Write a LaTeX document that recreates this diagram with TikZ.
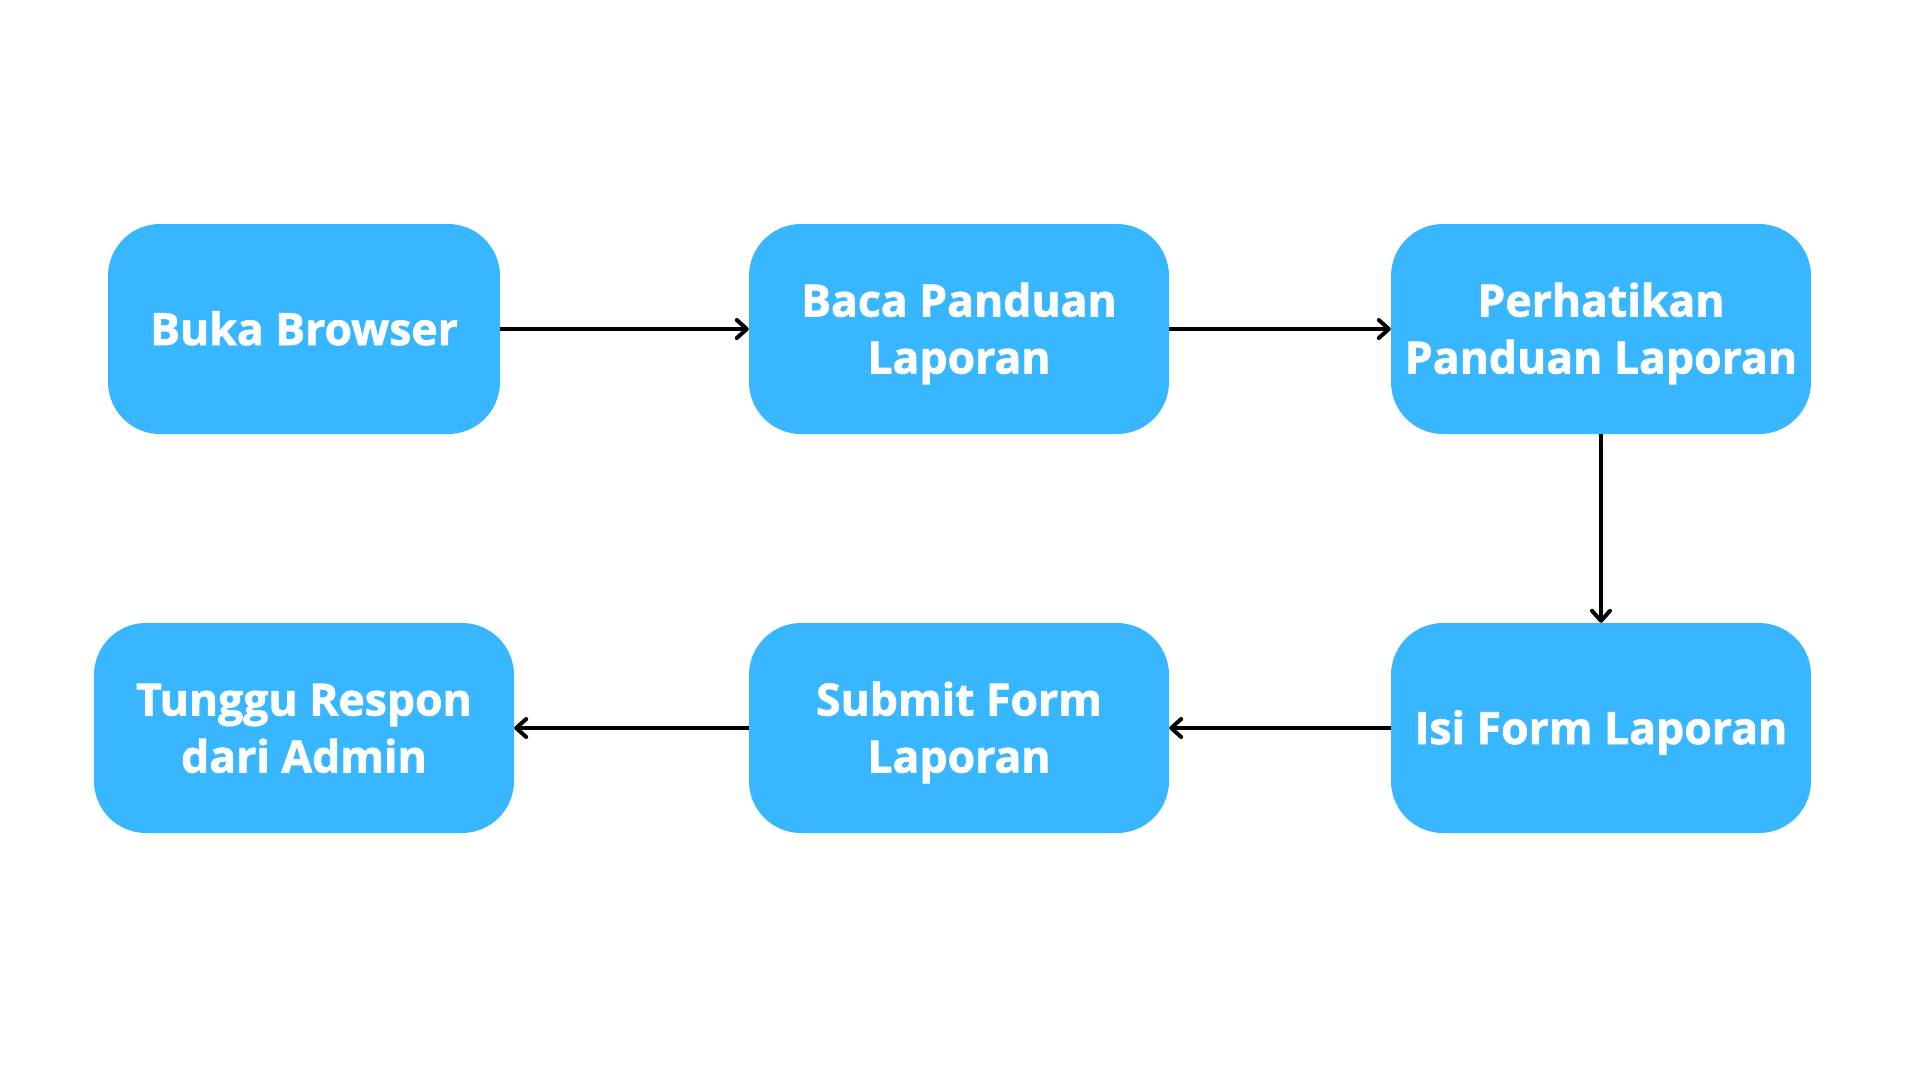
\documentclass[tikz,border=0pt]{standalone}
\usepackage{fontspec}
\setmainfont{Open Sans}[BoldFeatures={FakeBold=1.6}]
\usetikzlibrary{arrows.meta}
\definecolor{boxblue}{RGB}{56,182,255}
\newcommand\stk[1]{\begin{tabular}[b]{@{}c@{}}#1\end{tabular}}
\begin{document}
\begin{tikzpicture}[x=1pt,y=-1pt,
  stepbox/.style={fill=boxblue, draw=none, rounded corners=52pt, minimum height=210pt, inner sep=0pt},
  txt/.style={text=white, inner sep=0pt, anchor=base,
    font=\fontsize{44.5}{57}\selectfont\bfseries},
  flow/.style={line width=4pt, -{Straight Barb[length=10pt,width=18pt,round]}}]
\useasboundingbox[fill=white] (0,0) rectangle (1920,1080);
\node[stepbox, minimum width=392pt] (b1) at (304,329) {};
\node[stepbox, minimum width=420pt] (b2) at (959,329) {};
\node[stepbox, minimum width=420pt] (b3) at (1601,329) {};
\node[stepbox, minimum width=420pt] (b6) at (1601,728) {};
\node[stepbox, minimum width=420pt] (b5) at (959,728) {};
\node[stepbox, minimum width=420pt] (b4) at (304,728) {};
\node[txt] (t1) at ([yshift=-16pt]b1.center) {Buka Browser};
\node[txt] (t2) at ([yshift=-44.5pt]b2.center) {\stk{Baca Panduan\\Laporan}};
\node[txt] (t3) at ([yshift=-44.5pt]b3.center) {\stk{Perhatikan\\Panduan Laporan}};
\node[txt] (t6) at ([yshift=-16pt]b6.center) {Isi Form Laporan};
\node[txt] (t5) at ([yshift=-44.5pt]b5.center) {\stk{Submit Form\\Laporan}};
\node[txt] (t4) at ([yshift=-44.5pt]b4.center) {\stk{Tunggu Respon\\dari Admin}};
\draw[flow] (b1) -- (b2);
\draw[flow] (b2) -- (b3);
\draw[flow] (b3) -- (b6);
\draw[flow] (b6) -- (b5);
\draw[flow] (b5) -- (b4);
\end{tikzpicture}
\end{document}
